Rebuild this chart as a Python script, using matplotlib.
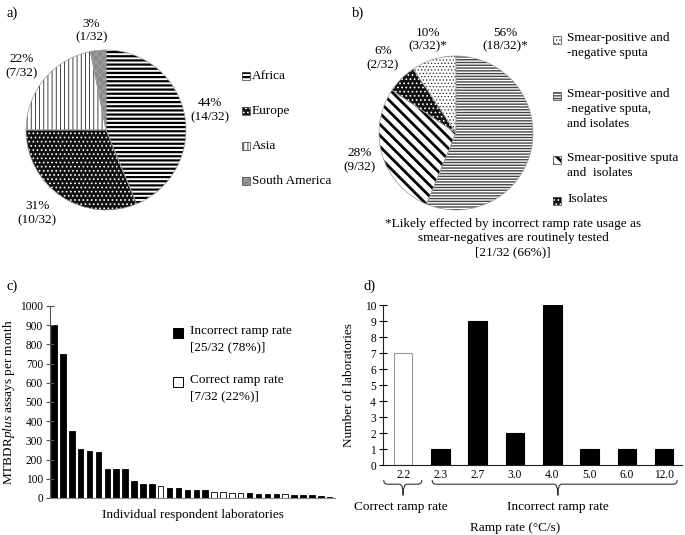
import numpy as np
import matplotlib
matplotlib.use('Agg')
import matplotlib.pyplot as plt
from matplotlib.patches import Rectangle, PathPatch
from matplotlib.path import Path
from matplotlib import transforms

plt.rcParams['font.family'] = 'Liberation Serif'
plt.rcParams['mathtext.fontset'] = 'custom'
plt.rcParams['mathtext.it'] = 'Liberation Serif:italic'
plt.rcParams['mathtext.rm'] = 'Liberation Serif'
plt.rcParams['hatch.linewidth'] = 1.0

# a) region of respondent laboratories
regions = ['Africa', 'Europe', 'Asia', 'South America']
region_n = [14, 10, 7, 1]
region_pct = [44, 31, 22, 3]

# b) sample types tested (wedge order clockwise from top)
sample_types = ['Smear-positive and\n-negative sputa, \nand isolates',
                'Smear-positive sputa\nand  isolates',
                'Isolates',
                'Smear-positive and\n-negative sputa']
sample_n = [18, 9, 2, 3]
sample_pct = [56, 28, 6, 10]
sample_star = ['*', '', '', '*']

# c) MTBDRplus assays per month per laboratory
assays = [900, 750, 350, 255, 245, 240, 150, 150, 150, 90, 75, 75, 60,
          50, 50, 40, 40, 40, 30, 30, 25, 25, 25, 20, 20, 20, 20,
          15, 15, 15, 10, 5]
assay_correct = [0] * 12 + [1] + [0] * 5 + [1] * 4 + [0] * 4 + [1] + [0] * 5

# d) ramp rates
ramp_rates = ['2.2', '2.3', '2.7', '3.0', '4.0', '5.0', '6.0', '12.0']
ramp_counts = [7, 1, 9, 2, 10, 1, 1, 1]
ramp_correct = [1, 0, 0, 0, 0, 0, 0, 0]

W, H = 685, 535
FS = 9.5
TFS = 8.3
fig = plt.figure(figsize=(W / 100, H / 100), dpi=100)


def box(l, t, r, b):
    return [l / W, 1 - b / H, (r - l) / W, (b - t) / H]


def px(x, y):
    return x / W, 1 - y / H


def set_hlw(p, lw):
    if hasattr(p, 'set_hatch_linewidth'):
        p.set_hatch_linewidth(lw)


# pie styles: (face, hatch, hatch colour, hatch lw)
styles_a = [('white', '----', 'black', 1.6),
            ('#111111', '....', 'white', 0.7),
            ('white', '||||', '#222222', 0.6),
            ('#8a8a8a', 'xxxx', '#b0b0b0', 0.4)]
styles_b = [('white', '------', '#444444', 1.0),
            ('white', '\\\\\\', 'black', 2.0),
            ('#111111', '....', 'white', 0.7),
            ('white', '.....', '#222222', 0.5)]


def hatched_pie(ax, sizes, styles):
    wedges, _ = ax.pie(sizes, startangle=90, counterclock=False, radius=1)
    for w, (fc, h, hc, lw) in zip(wedges, styles):
        w.set_facecolor(fc)
        w.set_hatch(h)
        w.set_edgecolor(hc)
        w.set_linewidth(0)
        set_hlw(w, lw)
    # thin outline on top
    ax.pie(sizes, startangle=90, counterclock=False, radius=1,
           wedgeprops=dict(fill=False, edgecolor='#9a9a9a', linewidth=0.5))
    ax.set_xlim(-1, 1)
    ax.set_ylim(-1, 1)
    ax.set_aspect('equal')


def legend_icon(x, y, style, size=8):
    fc, h, hc, lw = style
    r = Rectangle(px(x - size / 2, y + size / 2), size / W, size / H,
                  transform=fig.transFigure, facecolor=fc, edgecolor=hc,
                  hatch=h, linewidth=0)
    set_hlw(r, lw)
    fig.add_artist(r)
    fig.add_artist(Rectangle(px(x - size / 2, y + size / 2), size / W, size / H,
                             transform=fig.transFigure, fill=False,
                             edgecolor='#555555', linewidth=0.6))


# ---------------- a) ----------------
axa = fig.add_axes(box(26, 50, 186, 210))
hatched_pie(axa, region_n, styles_a)
pos_a = [(1.30, 0.25), (-0.86, -1.04), (-1.06, 0.80), (-0.18, 1.24)]
for (x, y), p, n in zip(pos_a, region_pct, region_n):
    axa.text(x, y, f'{p}%\n({n}/32)', ha='center', va='center', fontsize=FS)
for i, (lab, st) in enumerate(zip(regions, styles_a)):
    y = 76 + 35 * i
    legend_icon(246, y, st)
    fig.text(*px(252, y), lab, ha='left', va='center', fontsize=FS)
fig.text(*px(6, 13), 'a)', ha='left', va='center', fontsize=10.5)

# ---------------- b) ----------------
axb = fig.add_axes(box(379, 56, 533, 210))
hatched_pie(axb, sample_n, styles_b)
pos_b = [(0.64, 1.21), (-1.25, -0.35), (-0.95, 0.97), (-0.36, 1.21)]
for (x, y), p, n, s in zip(pos_b, sample_pct, sample_n, sample_star):
    axb.text(x, y, f'{p}%\n({n}/32){s}', ha='center', va='center', fontsize=FS)
leg_order = [3, 0, 1, 2]
leg_y = [40, 96, 160, 201]
for k, y in zip(leg_order, leg_y):
    legend_icon(557, y, styles_b[k])
    fig.text(*px(567, y - 7.5), sample_types[k], ha='left', va='top',
             fontsize=FS, linespacing=1.3)
fig.text(*px(513, 238), '*Likely effected by incorrect ramp rate usage as\n'
         'smear-negatives are routinely tested\n[21/32 (66%)]',
         ha='center', va='center', fontsize=FS, linespacing=1.2)
fig.text(*px(352, 13), 'b)', ha='left', va='center', fontsize=10.5)

# ---------------- c) ----------------
axc = fig.add_axes(box(50, 306, 335, 498))
xc = np.arange(len(assays))
cols = ['white' if c else 'black' for c in assay_correct]
axc.bar(xc, assays, width=0.62, color=cols, edgecolor='black', linewidth=0.6)
axc.set_xlim(-0.45, len(assays) - 0.4)
axc.set_ylim(0, 1000)
axc.set_yticks(np.arange(0, 1001, 100))
axc.set_xticks([])
for s in ['top', 'right']:
    axc.spines[s].set_visible(False)
axc.spines['left'].set_color('#555555')
axc.spines['bottom'].set_color('#888888')
axc.tick_params(axis='y', direction='inout', length=6, width=0.8,
                color='#555555', labelsize=TFS, pad=2)
axc.set_ylabel('MTBDR$\\it{plus}$ assays per month', fontsize=FS, labelpad=2)
axc.set_xlabel('Individual respondent laboratories', fontsize=FS, labelpad=8)
for y0, fc, txt in [(333, 'black', 'Incorrect ramp rate\n[25/32 (78%)]'),
                    (382, 'white', 'Correct ramp rate\n[7/32 (22%)]')]:
    fig.add_artist(Rectangle(px(173, y0 + 5), 10 / W, 10 / H, transform=fig.transFigure,
                             facecolor=fc, edgecolor='black', linewidth=0.7))
    fig.text(*px(190, y0 - 8), txt, ha='left', va='top', fontsize=FS, linespacing=1.45)
fig.text(*px(6, 286), 'c)', ha='left', va='center', fontsize=10.5)

# ---------------- d) ----------------
axd = fig.add_axes(box(383, 305, 682, 465))
xd = np.arange(len(ramp_rates))
axd.bar(xd, ramp_counts, width=0.5,
        color=['white' if c else 'black' for c in ramp_correct],
        edgecolor=['#999999' if c else 'black' for c in ramp_correct], linewidth=0.8)
axd.set_xlim(-0.54, len(ramp_rates) - 0.52)
axd.set_ylim(0, 10)
axd.set_yticks(range(0, 11))
axd.set_xticks(xd)
axd.set_xticklabels(ramp_rates)
for s in ['top', 'right']:
    axd.spines[s].set_visible(False)
axd.spines['left'].set_color('#222222')
axd.spines['bottom'].set_color('#222222')
axd.tick_params(axis='y', direction='inout', length=6, width=0.8, labelsize=TFS, pad=2)
axd.tick_params(axis='x', length=0, labelsize=TFS, pad=3)
axd.set_ylabel('Number of laboratories', fontsize=FS, labelpad=7)

tr = transforms.blended_transform_factory(axd.transData, axd.transAxes)


def brace(x0, x1, xm, yt=-0.094, yh=-0.12, yb=-0.19, d=0.1):
    verts = [(x0, yt), (x0, yh), (x0 + d, yh), (xm - d, yh), (xm, yh), (xm, yb),
             (xm, yh), (xm + d, yh), (x1 - d, yh), (x1, yh), (x1, yt)]
    codes = [Path.MOVETO, Path.CURVE3, Path.CURVE3, Path.LINETO, Path.CURVE3, Path.CURVE3,
             Path.CURVE3, Path.CURVE3, Path.LINETO, Path.CURVE3, Path.CURVE3]
    axd.add_patch(PathPatch(Path(verts, codes), transform=tr, fill=False,
                            edgecolor='#333333', linewidth=0.8, clip_on=False))


n_ok = sum(ramp_correct)
brace(-0.52, n_ok - 1 + 0.5, (n_ok - 1) / 2)
brace(n_ok - 0.22, len(ramp_rates) - 0.65, 4.15)
axd.text((n_ok - 1) / 2 - 0.05, -0.265, 'Correct ramp rate', transform=tr,
         ha='center', va='center', fontsize=FS)
axd.text(4.15, -0.265, 'Incorrect ramp rate', transform=tr,
         ha='center', va='center', fontsize=FS)
axd.text(3.0, -0.395, 'Ramp rate (°C/s)', transform=tr,
         ha='center', va='center', fontsize=FS)
fig.text(*px(364, 286), 'd)', ha='left', va='center', fontsize=10.5)

fig.savefig('out.png', dpi=100)
